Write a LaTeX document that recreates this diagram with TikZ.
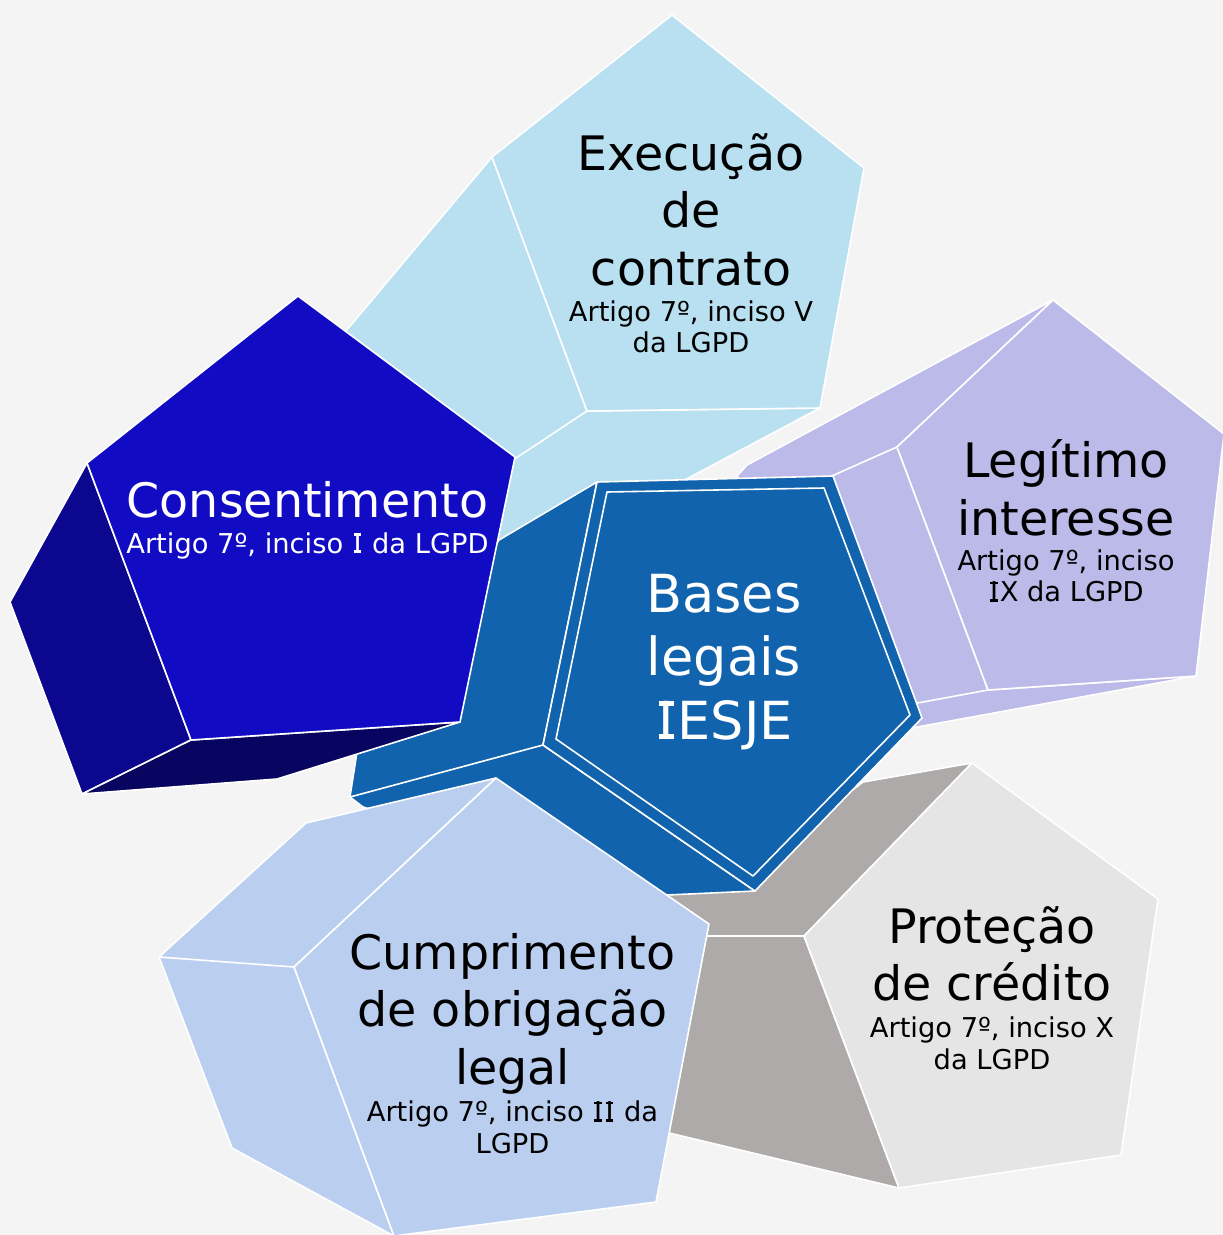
\documentclass[tikz,border=0pt]{standalone}
\usepackage{fontspec}
\setmainfont{DejaVu Sans}
\definecolor{bg}{RGB}{244,244,244}
\definecolor{execc}{RGB}{184,224,240}
\definecolor{legc}{RGB}{188,186,232}
\definecolor{centc}{RGB}{16,99,172}
\definecolor{consf}{RGB}{17,12,196}
\definecolor{consl}{RGB}{11,7,142}
\definecolor{consb}{RGB}{8,5,96}
\definecolor{cumc}{RGB}{186,207,240}
\definecolor{protf}{RGB}{229,229,229}
\definecolor{prots}{RGB}{173,170,169}
% capital I with slab serifs, as in the original typeface
\newcommand\serifI{\makebox[0.421em][c]{\makebox[0pt][c]{\rule{0.27em}{0.095em}}\makebox[0pt][c]{\raisebox{0.634em}{\rule{0.27em}{0.095em}}}\makebox[0pt][c]{I}}}
\begin{document}
\begin{tikzpicture}[x=1pt,y=-1pt,
  face/.style={draw=white, line width=1.6pt, line join=round},
  edge/.style={draw=white, line width=1.6pt, line cap=round},
  ttl/.style={anchor=base, align=center, inner sep=0pt, font=\fontsize{47.5}{57.5}\selectfont},
  sub/.style={anchor=base, align=center, inner sep=0pt, font=\fontsize{27.3}{31.5}\selectfont},
  ctl/.style={anchor=base, align=center, inner sep=0pt, text=white, font=\fontsize{52.5}{63.5}\selectfont}]
\useasboundingbox (0,0) rectangle (1223,1235);
\fill[bg] (0,0) rectangle (1223,1235);

% ---- Execucao de contrato (top)
\filldraw[face, fill=execc] (492,157) -- (330,350) -- (470,570) -- (600,525) -- (820,408) -- (587,411) -- cycle;
\draw[edge] (587,411) -- (510,462);
\filldraw[face, fill=execc] (672,15) -- (864,168) -- (820,408) -- (587,411) -- (492,157) -- cycle;
\node[ttl] (exT) at (691,285) {Execução\\de\\contrato};
\node[sub] (exS) at (691,352.5) {Artigo 7º, inciso V\\da LGPD};

% ---- Legitimo interesse (right)
\filldraw[face, fill=legc] (1053,300) -- (747,465) -- (737,476) -- (760,520) -- (890,732) -- (1196,676) -- (988,690) -- (897,447) -- cycle;
\draw[edge] (897,447) -- (825,479);
\draw[edge] (988,690) -- (912,704);
\filldraw[face, fill=legc] (1053,300) -- (1224,434) -- (1196,676) -- (988,690) -- (897,447) -- cycle;
\node[ttl] (leT) at (1066,535) {Legítimo\\interesse};
\node[sub] (leS) at (1066,601.5) {Artigo 7º, inciso\\\serifI X da LGPD};

% ---- Protecao de credito (bottom right)
\filldraw[face, fill=prots] (972,763) -- (863,782) -- (800,830) -- (700,880) -- (660,893) -- (650,1000) -- (640,1126) -- (899,1188) -- (804,936) -- cycle;
\draw[edge] (804,936) -- (700,936);
\filldraw[face, fill=protf] (972,763) -- (1158,899) -- (1121,1155) -- (899,1188) -- (804,936) -- cycle;
\node[ttl] (prT) at (992,1000.5) {Proteção\\de crédito};
\node[sub] (prS) at (992,1069) {Artigo 7º, inciso X\\da LGPD};

% ---- Center: Bases legais IESJE
\filldraw[face, fill=centc] (597,482) -- (499,540) -- (430,640) -- (365,700) -- (350,797) -- (363,807) -- (600,880) -- (667,895) -- (755,891) -- (543,745) -- cycle;
\draw[edge] (543,745) -- (350,797);
\filldraw[face, fill=centc] (597,482) -- (833,476) -- (922,718) -- (755,891) -- (543,745) -- cycle;
\draw[face] (607,492) -- (824,488) -- (910,715) -- (753,876) -- (556,739) -- cycle;
\node[ctl] (ceT) at (724,739) {Bases\\legais\\\serifI ESJE};

% ---- Consentimento (left)
\filldraw[face, fill=consl] (87,463) -- (10,602) -- (82,794) -- (191,740) -- cycle;
\filldraw[face, fill=consb] (191,740) -- (82,794) -- (277,779) -- (460,722) -- cycle;
\filldraw[face, fill=consf] (298,296) -- (515,457) -- (460,722) -- (191,740) -- (87,463) -- cycle;
\node[ttl, text=white] (coT) at (307.5,517) {Consentimento};
\node[sub, text=white] (coS) at (307.5,553) {Artigo 7º, inciso \serifI\ da LGPD};

% ---- Cumprimento de obrigacao legal (bottom left)
\filldraw[face, fill=cumc] (496,778) -- (306,823) -- (159,957) -- (232,1148) -- (394,1236) -- (294,967) -- cycle;
\draw[edge] (294,967) -- (159,957);
\filldraw[face, fill=cumc] (496,778) -- (709,924) -- (656,1202) -- (394,1236) -- (294,967) -- cycle;
\node[ttl] (cuT) at (512.5,1084) {Cumprimento\\de obrigação\\legal};
\node[sub] (cuS) at (512.5,1153) {Artigo 7º, inciso \serifI\serifI\ da\\LGPD};
\end{tikzpicture}
\end{document}
